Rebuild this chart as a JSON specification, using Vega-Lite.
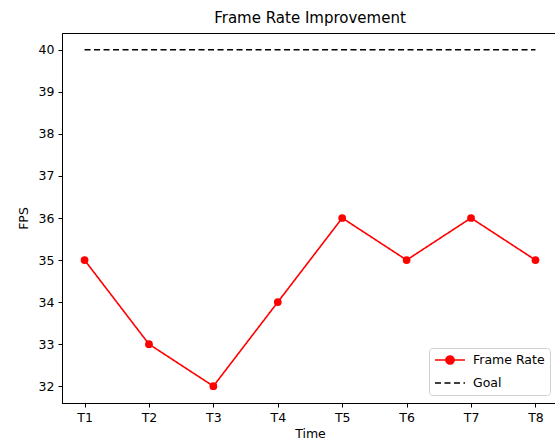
{
  "$schema": "https://vega.github.io/schema/vega-lite/v6.json",
  "autosize": "none",
  "padding": {"left": 62, "top": 33, "right": 0, "bottom": 44},
  "width": 496,
  "height": 370,
  "title": {"text": "Frame Rate Improvement", "font": "DejaVu Sans", "fontSize": 15, "fontWeight": "normal", "color": "black", "offset": 7},
  "config": {
    "font": "DejaVu Sans",
    "view": {"stroke": "black", "strokeWidth": 1},
    "axis": {"grid": false, "domainColor": "black", "tickColor": "black", "tickSize": 4, "labelFontSize": 12.5, "labelColor": "black", "titleFontSize": 12.5, "titleFontWeight": "normal", "titleColor": "black", "labelPadding": 4}
  },
  "data": {"values": [
    {"time": "T1", "fps": 35, "series": "Frame Rate"},
    {"time": "T2", "fps": 33, "series": "Frame Rate"},
    {"time": "T3", "fps": 32, "series": "Frame Rate"},
    {"time": "T4", "fps": 34, "series": "Frame Rate"},
    {"time": "T5", "fps": 36, "series": "Frame Rate"},
    {"time": "T6", "fps": 35, "series": "Frame Rate"},
    {"time": "T7", "fps": 36, "series": "Frame Rate"},
    {"time": "T8", "fps": 35, "series": "Frame Rate"},
    {"time": "T1", "fps": 40, "series": "Goal"},
    {"time": "T2", "fps": 40, "series": "Goal"},
    {"time": "T3", "fps": 40, "series": "Goal"},
    {"time": "T4", "fps": 40, "series": "Goal"},
    {"time": "T5", "fps": 40, "series": "Goal"},
    {"time": "T6", "fps": 40, "series": "Goal"},
    {"time": "T7", "fps": 40, "series": "Goal"},
    {"time": "T8", "fps": 40, "series": "Goal"}
  ]},
  "encoding": {
    "x": {"field": "time", "type": "ordinal", "scale": {"type": "point", "padding": 0.35}, "axis": {"labelAngle": 0, "title": "Time", "titlePadding": 4}},
    "y": {"field": "fps", "type": "quantitative", "scale": {"domain": [31.6, 40.4], "nice": false, "zero": false}, "axis": {"values": [32, 33, 34, 35, 36, 37, 38, 39, 40], "title": "FPS", "titlePadding": 8}}
  },
  "layer": [
    {
      "mark": {"type": "line", "strokeWidth": 1.6},
      "encoding": {
        "color": {"field": "series", "type": "nominal", "scale": {"domain": ["Frame Rate", "Goal"], "range": ["#ff0000", "black"]},
          "legend": {"title": null, "orient": "bottom-right", "offset": 8, "labelFontSize": 12.5, "labelColor": "black", "symbolSize": 144, "symbolStrokeWidth": 1.6, "symbolOffset": 9, "rowPadding": 8, "padding": 5, "strokeColor": "#d0d0d0", "fillColor": "white", "cornerRadius": 3, "labelOffset": 16,
            "encode": {"symbols": {"update": {"shape": {"signal": "datum.value === 'Frame Rate' ? 'M-2.5,0H2.5M-0.67,0A0.67,0.67 0 1,1 0.67,0A0.67,0.67 0 1,1 -0.67,0Z' : 'M-2.5,0H2.5'"}, "fill": {"signal": "datum.value === 'Frame Rate' ? '#ff0000' : 'transparent'"}}}}}},
        "strokeDash": {"field": "series", "type": "nominal", "scale": {"domain": ["Frame Rate", "Goal"], "range": [[1, 0], [6, 3.5]]}, "legend": null}
      }
    },
    {
      "transform": [{"filter": "datum.series === 'Frame Rate'"}],
      "mark": {"type": "point", "filled": true, "size": 60, "opacity": 1, "color": "#ff0000"},
      "encoding": {}
    }
  ]
}
